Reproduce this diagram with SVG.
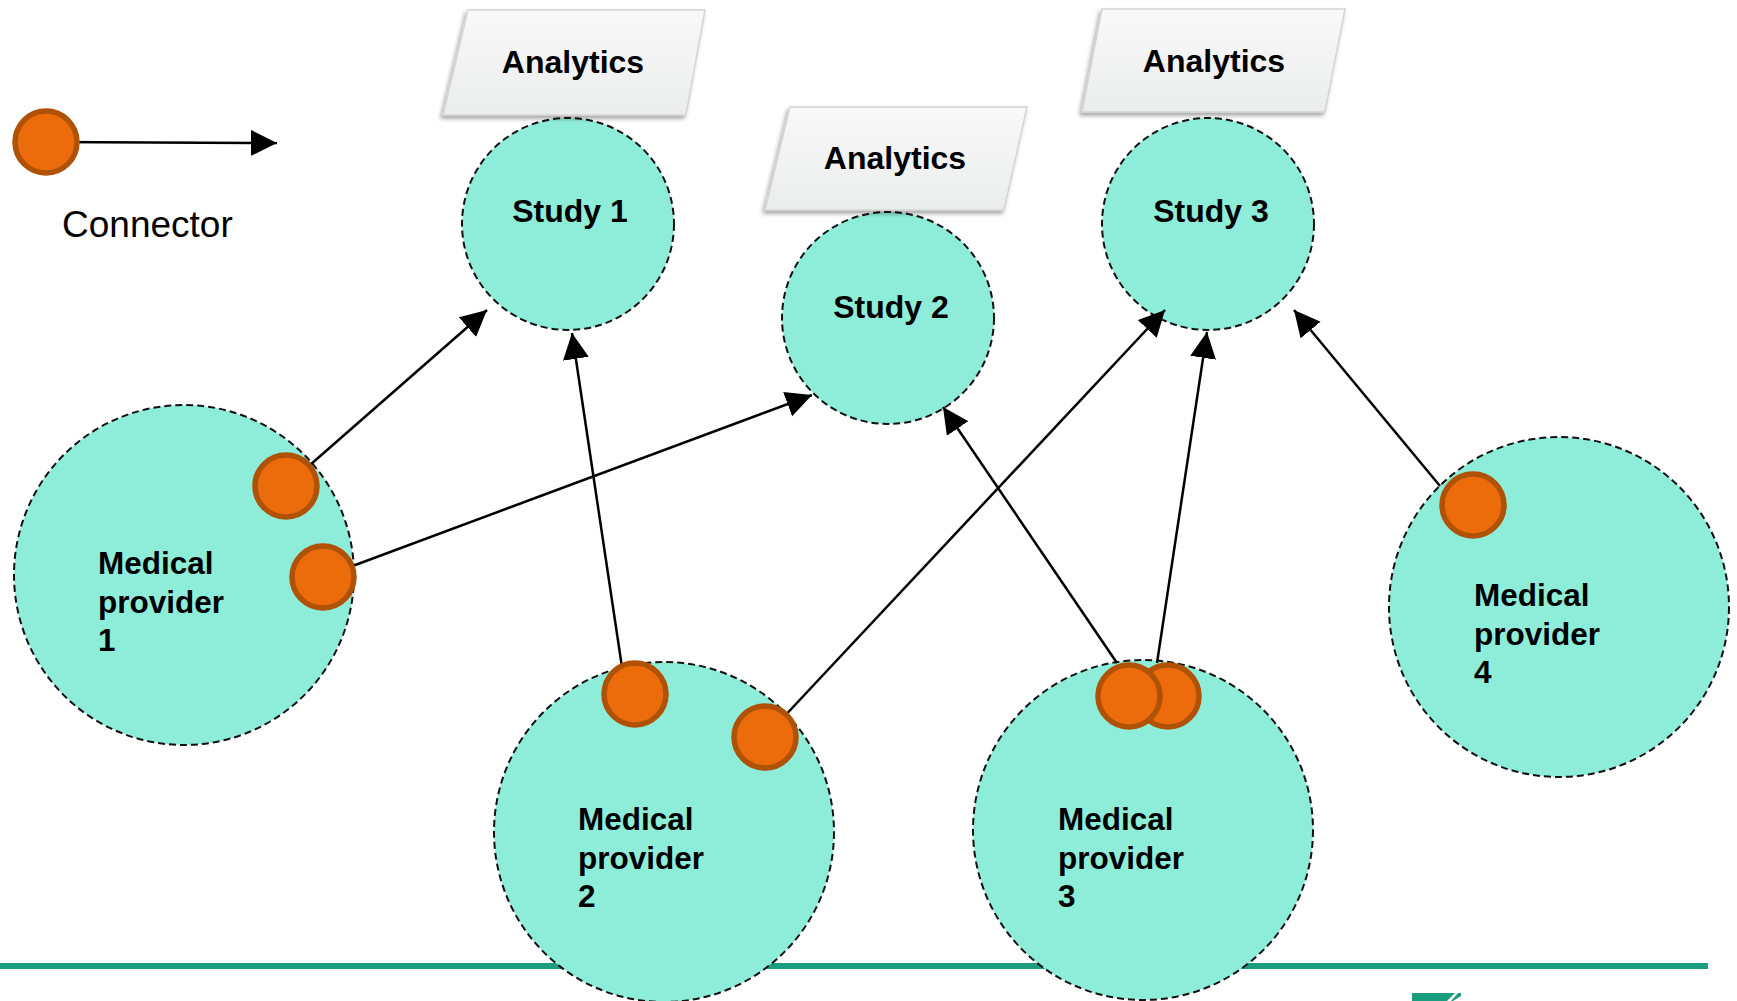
<svg xmlns="http://www.w3.org/2000/svg" width="1737" height="1001" viewBox="0 0 1737 1001">
<style>
.bubble{fill:#8eedd8;stroke:#111;stroke-width:2;stroke-dasharray:7 4}
.box{fill:url(#boxg);stroke:#d4d4d4;stroke-width:1.5;filter:url(#sh)}
.dot{fill:#ec6c0c;stroke:#b05206;stroke-width:5.5}
.lbl{font-family:"Liberation Sans",Arial,sans-serif;font-weight:bold;font-size:32px;fill:#000}
.plbl{font-size:31.5px}
.cn{stroke:#000;stroke-width:2.5;fill:none;marker-end:url(#ah)}
</style>
<defs>
<linearGradient id="boxg" x1="0" y1="0" x2="0" y2="1">
<stop offset="0" stop-color="#f9f9f9"/>
<stop offset="1" stop-color="#ebecec"/>
</linearGradient>
<filter id="sh" x="-10%" y="-10%" width="120%" height="130%">
<feDropShadow dx="-2" dy="3" stdDeviation="2" flood-color="#000" flood-opacity="0.35"/>
</filter>
<marker id="ah" markerUnits="userSpaceOnUse" markerWidth="28" markerHeight="28" refX="26" refY="13" orient="auto">
<path d="M0,0 L26,13 L0,26 z" fill="#000"/>
</marker>
</defs>
<rect width="1737" height="1001" fill="#fff"/>
<g id="footer">
<rect x="0" y="963" width="1708" height="6" fill="#1b9e7f"/>
<polygon points="1412,993 1455,993 1447,1001 1412,1001" fill="#1b9e7f"/>
<polygon points="1458,993 1461,993 1461,996 1453,1001 1451,1001" fill="#1b9e7f"/>
</g>
<g id="legend">
<line class="cn" x1="46" y1="142" x2="277" y2="143"/>
<circle class="dot" cx="46" cy="142" r="31"/>
<text x="62" y="237" font-family="'Liberation Sans',Arial,sans-serif" font-size="37" fill="#000">Connector</text>
</g>
<g id="provider1">
<circle class="bubble" cx="184" cy="575" r="170"/>
<text class="lbl plbl" x="98" y="574"><tspan x="98">Medical</tspan><tspan x="98" dy="38.5">provider</tspan><tspan x="98" dy="38.5">1</tspan></text>
</g>
<g id="provider2">
<circle class="bubble" cx="664" cy="832" r="170"/>
<text class="lbl plbl" x="578" y="830"><tspan x="578">Medical</tspan><tspan x="578" dy="38.5">provider</tspan><tspan x="578" dy="38.5">2</tspan></text>
</g>
<g id="provider3">
<circle class="bubble" cx="1143" cy="830" r="170"/>
<text class="lbl plbl" x="1058" y="830"><tspan x="1058">Medical</tspan><tspan x="1058" dy="38.5">provider</tspan><tspan x="1058" dy="38.5">3</tspan></text>
</g>
<g id="provider4">
<circle class="bubble" cx="1559" cy="607" r="170"/>
<text class="lbl plbl" x="1474" y="606"><tspan x="1474">Medical</tspan><tspan x="1474" dy="38.5">provider</tspan><tspan x="1474" dy="38.5">4</tspan></text>
</g>
<g id="study1">
<circle class="bubble" cx="568" cy="224" r="106"/>
<text class="lbl" x="570" y="222" text-anchor="middle">Study 1</text>
</g>
<g id="study2">
<circle class="bubble" cx="888" cy="318" r="106"/>
<text class="lbl" x="891" y="318" text-anchor="middle">Study 2</text>
</g>
<g id="study3">
<circle class="bubble" cx="1208" cy="224" r="106"/>
<text class="lbl" x="1211" y="222" text-anchor="middle">Study 3</text>
</g>
<g id="analytics1">
<polygon class="box" points="468,10 705,10 686,115 443,115"/>
<text class="lbl" x="573" y="73" text-anchor="middle">Analytics</text>
</g>
<g id="analytics2">
<polygon class="box" points="790,107 1027,107 1004,210 765,210"/>
<text class="lbl" x="895" y="169" text-anchor="middle">Analytics</text>
</g>
<g id="analytics3">
<polygon class="box" points="1102,9 1345,9 1325,112 1082,112"/>
<text class="lbl" x="1214" y="72" text-anchor="middle">Analytics</text>
</g>
<g id="connectors">
<line class="cn" x1="286" y1="486" x2="487" y2="310"/>
<line class="cn" x1="323" y1="577" x2="812" y2="395"/>
<line class="cn" x1="626" y1="694" x2="572" y2="333"/>
<line class="cn" x1="765" y1="737" x2="1165" y2="310"/>
<line class="cn" x1="1117" y1="663" x2="943" y2="407"/>
<line class="cn" x1="1157" y1="663" x2="1207" y2="332"/>
<line class="cn" x1="1440" y1="486" x2="1294" y2="310"/>
</g>
<g id="ports">
<circle class="dot" cx="286" cy="486" r="31"/>
<circle class="dot" cx="323" cy="577" r="31"/>
<circle class="dot" cx="635" cy="694" r="31"/>
<circle class="dot" cx="765" cy="737" r="31"/>
<circle class="dot" cx="1168" cy="696" r="31"/>
<circle class="dot" cx="1129" cy="696" r="31"/>
<circle class="dot" cx="1473" cy="505" r="31"/>
</g>
</svg>
